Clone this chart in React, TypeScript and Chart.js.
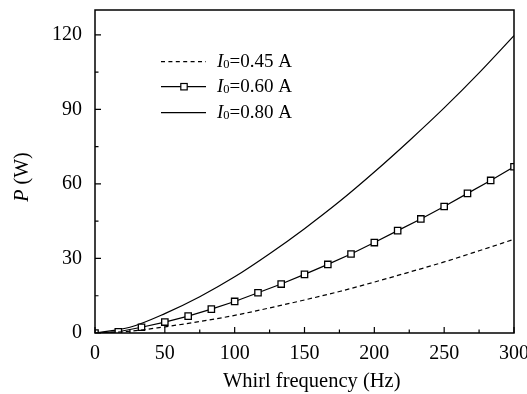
import React, { useEffect, useRef } from "react";
import { Chart, registerables } from "chart.js";

Chart.register(...registerables);

// ---- data ----
const freqMarkers = [0, 16.7, 33.3, 50, 66.7, 83.3, 100, 116.7, 133.3, 150, 166.7, 183.3, 200, 216.7, 233.3, 250, 266.7, 283.3, 300];
const p060 = [0, 0.5, 2.3, 4.4, 6.8, 9.6, 12.7, 16.2, 19.7, 23.6, 27.6, 31.8, 36.4, 41.2, 45.9, 50.9, 56.2, 61.4, 66.9];
const freqCurve = [0, 25, 50, 75, 100, 125, 150, 175, 200, 225, 250, 275, 300];
const p045 = [0, 0.7, 2.5, 4.6, 7.1, 10.1, 13.3, 16.7, 20.5, 24.5, 28.6, 33.1, 37.7];
const p080 = [0, 2.3, 7.8, 14.6, 22.6, 31.9, 42.0, 52.9, 64.8, 77.4, 90.6, 104.7, 119.7];
const seriesLabels = ["0.45 A", "0.60 A", "0.80 A"];
const xTitle = "Whirl frequency (Hz)";
const yTitleItalic = "P";
const yTitleRest = " (W)";
const xMajorStep = 50;
const xMinorStep = 25;
const yMajorStep = 30;
const yMinorStep = 15;

const SERIF = "'Liberation Serif', 'Times New Roman', serif";

const overlayPlugin = {
  id: "overlay",
  afterDraw(chart: any) {
    const ctx = chart.ctx as CanvasRenderingContext2D;
    const { left, right, top, bottom } = chart.chartArea;
    const xs = chart.scales.x;
    const ys = chart.scales.y;
    ctx.save();
    ctx.strokeStyle = "#000";
    // frame
    ctx.lineWidth = 1.5;
    ctx.strokeRect(left, top, right - left, bottom - top);
    // inward ticks
    ctx.lineWidth = 1.2;
    ctx.beginPath();
    for (let v = xs.min; v <= xs.max + 1e-9; v += xMinorStep) {
      const px = xs.getPixelForValue(v);
      const len = Math.abs(v % xMajorStep) < 1e-9 ? 6 : 3.5;
      ctx.moveTo(px, bottom);
      ctx.lineTo(px, bottom - len);
    }
    for (let v = ys.min; v <= ys.max + 1e-9; v += yMinorStep) {
      const py = ys.getPixelForValue(v);
      const len = Math.abs(v % yMajorStep) < 1e-9 ? 6 : 3.5;
      ctx.moveTo(left, py);
      ctx.lineTo(left + len, py);
    }
    ctx.stroke();

    // x title
    ctx.fillStyle = "#000";
    ctx.font = `20.5px ${SERIF}`;
    ctx.textAlign = "center";
    ctx.textBaseline = "alphabetic";
    ctx.fillText(xTitle, 311.7, 386.5);

    // y title (rotated, italic P)
    ctx.save();
    ctx.translate(28, 177);
    ctx.rotate(-Math.PI / 2);
    ctx.font = `italic 20px ${SERIF}`;
    const w1 = ctx.measureText(yTitleItalic).width;
    ctx.font = `20px ${SERIF}`;
    const w2 = ctx.measureText(yTitleRest).width;
    const start = -(w1 + w2) / 2;
    ctx.textAlign = "left";
    ctx.font = `italic 20px ${SERIF}`;
    ctx.fillText(yTitleItalic, start, 0);
    ctx.font = `20px ${SERIF}`;
    ctx.fillText(yTitleRest, start + w1, 0);
    ctx.restore();

    // legend
    const rows = [61.7, 86.7, 112.7];
    const x0 = 161;
    const x1 = 206;
    const tx = 217;
    rows.forEach((ry, i) => {
      ctx.save();
      ctx.lineWidth = 1.2;
      ctx.strokeStyle = "#000";
      if (i === 0) ctx.setLineDash([4, 3.4]);
      ctx.beginPath();
      ctx.moveTo(x0, ry);
      ctx.lineTo(x1, ry);
      ctx.stroke();
      ctx.setLineDash([]);
      if (i === 1) {
        const cx = (x0 + x1) / 2 + 0.5;
        ctx.fillStyle = "#fff";
        ctx.fillRect(cx - 3.2, ry - 3.2, 6.4, 6.4);
        ctx.strokeRect(cx - 3.2, ry - 3.2, 6.4, 6.4);
      }
      ctx.fillStyle = "#000";
      ctx.textAlign = "left";
      ctx.textBaseline = "alphabetic";
      const base = ry + 5;
      ctx.font = `italic 19px ${SERIF}`;
      ctx.fillText("I", tx, base);
      let cx = tx + ctx.measureText("I").width;
      ctx.font = `12.5px ${SERIF}`;
      ctx.fillText("0", cx, base + 1.7);
      cx += ctx.measureText("0").width;
      ctx.font = `19px ${SERIF}`;
      ctx.fillText("=" + seriesLabels[i], cx, base);
      ctx.restore();
    });
    ctx.restore();
  },
};

export default function App() {
  const ref = useRef<HTMLCanvasElement>(null);
  useEffect(() => {
    const canvas = ref.current;
    if (!canvas) return;
    const chart = new Chart(canvas, {
      type: "line",
      data: {
        datasets: [
          {
            label: seriesLabels[0],
            data: freqCurve.map((f, i) => ({ x: f, y: p045[i] })),
            borderColor: "#000",
            borderWidth: 1.2,
            borderDash: [4.5, 3.2],
            pointRadius: 0,
            cubicInterpolationMode: "monotone",
            fill: false,
          },
          {
            label: seriesLabels[1],
            data: freqMarkers.map((f, i) => ({ x: f, y: p060[i] })),
            borderColor: "#000",
            borderWidth: 1.2,
            pointStyle: "rect",
            pointRadius: 4.5,
            pointBorderWidth: 1.3,
            pointBackgroundColor: "#fff",
            pointBorderColor: "#000",
            tension: 0,
            fill: false,
          },
          {
            label: seriesLabels[2],
            data: freqCurve.map((f, i) => ({ x: f, y: p080[i] })),
            borderColor: "#000",
            borderWidth: 1.2,
            pointRadius: 0,
            cubicInterpolationMode: "monotone",
            fill: false,
          },
        ],
      },
      options: {
        animation: false,
        responsive: true,
        maintainAspectRatio: false,
        layout: { padding: { top: 10, right: 13, left: 0, bottom: 0 } },
        plugins: {
          legend: { display: false },
          tooltip: { enabled: false },
        },
        scales: {
          x: {
            type: "linear",
            min: 0,
            max: 300,
            grid: { display: false, drawTicks: false },
            border: { display: false },
            ticks: {
              stepSize: xMajorStep,
              color: "#000",
              padding: 9,
              maxRotation: 0,
              font: { family: SERIF, size: 20 },
            },
            afterFit: (s: any) => {
              s.height = 61;
              s.paddingLeft = 0;
              s.paddingRight = 0;
            },
          },
          y: {
            type: "linear",
            min: 0,
            max: 130,
            grid: { display: false, drawTicks: false },
            border: { display: false },
            ticks: {
              stepSize: yMajorStep,
              color: "#000",
              padding: 13,
              font: { family: SERIF, size: 20 },
            },
            afterBuildTicks: (s: any) => {
              s.ticks = s.ticks.filter((t: any) => Math.abs(t.value % yMajorStep) < 1e-9);
            },
            afterFit: (s: any) => {
              s.width = 95;
              s.paddingTop = 0;
              s.paddingBottom = 0;
            },
          },
        },
      },
      plugins: [overlayPlugin],
    });
    return () => chart.destroy();
  }, []);
  return (
    <div style={{ position: "fixed", left: 0, top: 0, width: 527, height: 394 }}>
      <canvas ref={ref} />
    </div>
  );
}
